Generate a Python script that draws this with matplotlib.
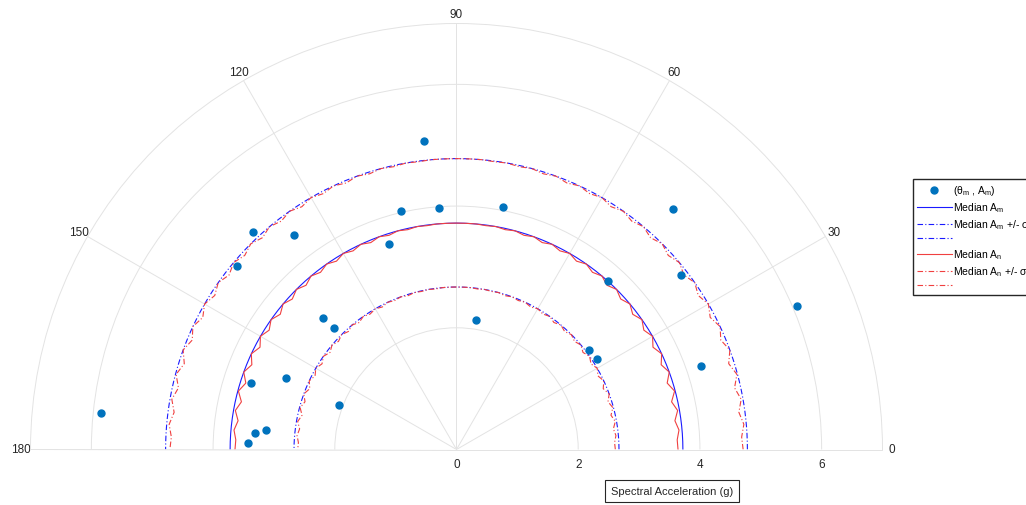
import numpy as np
import matplotlib.pyplot as plt

plt.rcParams['font.family'] = ['Liberation Sans', 'DejaVu Sans']
plt.rcParams['mathtext.default'] = 'regular'

# observed (theta, amplitude) pairs
theta_m = [96.1, 94.1, 79.1, 103.1, 108.2, 127.1, 133.1, 140.1, 174.1, 135.3,
           135.3, 157.2, 162.1, 159.3, 174.2, 175.2, 178.2, 81.3, 48.0, 48.0,
           37.9, 22.9, 18.9, 36.9, 32.8]
a_m = [5.10, 3.98, 4.06, 4.02, 3.56, 4.42, 4.89, 4.70, 5.88, 3.08,
       2.84, 3.04, 3.55, 2.07, 3.15, 3.32, 3.43, 2.16, 3.73, 5.32,
       4.68, 6.07, 4.25, 2.73, 2.74]

# median and +/- sigma of A_m (independent of angle)
median_am = 3.72
am_plus = 4.78
am_minus = 2.67

# A_n as a function of rotation angle, every 2.5 deg from 0 to 180
theta_n = np.arange(0, 180.1, 2.5)
median_an = [3.64, 3.63, 3.67, 3.62, 3.69, 3.62, 3.71, 3.63, 3.72, 3.64,
             3.72, 3.64, 3.72, 3.65, 3.72, 3.65, 3.72, 3.66, 3.72, 3.66,
             3.72, 3.67, 3.72, 3.67, 3.72, 3.68, 3.72, 3.68, 3.72, 3.69,
             3.72, 3.70, 3.72, 3.71, 3.72, 3.72, 3.72, 3.72, 3.72, 3.71,
             3.72, 3.70, 3.72, 3.69, 3.72, 3.68, 3.72, 3.68, 3.72, 3.67,
             3.72, 3.67, 3.72, 3.66, 3.72, 3.66, 3.72, 3.65, 3.72, 3.65,
             3.72, 3.64, 3.72, 3.64, 3.72, 3.63, 3.71, 3.62, 3.69, 3.62,
             3.67, 3.63, 3.64]
an_plus = [4.71, 4.69, 4.74, 4.68, 4.75, 4.68, 4.77, 4.69, 4.78, 4.70,
           4.78, 4.70, 4.78, 4.71, 4.78, 4.71, 4.78, 4.72, 4.78, 4.72,
           4.78, 4.73, 4.78, 4.73, 4.78, 4.74, 4.78, 4.74, 4.78, 4.75,
           4.78, 4.76, 4.78, 4.77, 4.78, 4.78, 4.78, 4.78, 4.78, 4.77,
           4.78, 4.76, 4.78, 4.75, 4.78, 4.74, 4.78, 4.74, 4.78, 4.73,
           4.78, 4.73, 4.78, 4.72, 4.78, 4.72, 4.78, 4.71, 4.78, 4.71,
           4.78, 4.70, 4.78, 4.70, 4.78, 4.69, 4.77, 4.68, 4.75, 4.68,
           4.74, 4.69, 4.71]
an_minus = [2.61, 2.60, 2.63, 2.60, 2.65, 2.60, 2.66, 2.61, 2.67, 2.61,
            2.67, 2.62, 2.67, 2.62, 2.67, 2.62, 2.67, 2.63, 2.67, 2.63,
            2.67, 2.63, 2.67, 2.64, 2.67, 2.64, 2.67, 2.65, 2.67, 2.65,
            2.67, 2.66, 2.67, 2.66, 2.67, 2.67, 2.67, 2.67, 2.67, 2.66,
            2.67, 2.66, 2.67, 2.65, 2.67, 2.65, 2.67, 2.64, 2.67, 2.64,
            2.67, 2.63, 2.67, 2.63, 2.67, 2.63, 2.67, 2.62, 2.67, 2.62,
            2.67, 2.62, 2.67, 2.61, 2.67, 2.61, 2.66, 2.60, 2.65, 2.60,
            2.63, 2.60, 2.61]

theta_ticks = [0, 30, 60, 90, 120, 150, 180]
r_ticks = [0, 2, 4, 6]

fig = plt.figure(figsize=(10.26, 5.06), dpi=100)
# square box so the upper half-disc spans the full width
ax = fig.add_axes([30.5 / 1026, -157.5 / 506, 852 / 1026, 852 / 506], projection='polar')

th = np.deg2rad(theta_n)
th_full = np.deg2rad(np.linspace(0, 180, 361))
dashdot = (0, (5, 2, 1, 2))
blue = '#1a1aff'
red = '#f04040'

h_pts, = ax.plot(np.deg2rad(theta_m), a_m, 'o', color='#0072BD', ms=5, zorder=5)
h_med_m, = ax.plot(th_full, np.full(th_full.size, median_am), '-', color=blue, lw=0.8)
h_hi_m, = ax.plot(th_full, np.full(th_full.size, am_plus), color=blue, lw=0.8, ls=dashdot)
h_lo_m, = ax.plot(th_full, np.full(th_full.size, am_minus), color=blue, lw=0.8, ls=dashdot)
h_med_n, = ax.plot(th, median_an, '-', color=red, lw=0.8)
h_hi_n, = ax.plot(th, an_plus, color=red, lw=0.8, ls=dashdot)
h_lo_n, = ax.plot(th, an_minus, color=red, lw=0.8, ls=dashdot)

ax.set_thetamin(0)
ax.set_thetamax(180)
ax.set_rlim(0, 7)
ax.set_rticks(r_ticks)
ax.set_thetagrids(theta_ticks, [str(t) for t in theta_ticks])
ax.grid(color='#e3e3e3', lw=0.7)
for sp in ax.spines.values():
    sp.set_color('#e3e3e3')
    sp.set_linewidth(0.7)
ax.tick_params(labelsize=8.5, colors='#262626', length=0)
ax.tick_params(axis='x', pad=0)
ax.tick_params(axis='y', pad=6)

ax.legend([h_pts, h_med_m, h_hi_m, h_lo_m, h_med_n, h_hi_n, h_lo_n],
          [r'($\theta_m$ , $A_m$)', r'Median $A_m$', r'Median $A_m$ +/- $\sigma_m$', '',
           r'Median $A_n$', r'Median $A_n$ +/- $\sigma_n$', ''],
          loc='upper left', bbox_to_anchor=(913 / 1026, 1 - 180 / 506),
          bbox_transform=fig.transFigure, fontsize=7.5, frameon=True, fancybox=False,
          edgecolor='#262626', framealpha=1, borderaxespad=0, borderpad=0.4,
          handlelength=3.3, handletextpad=0.1, labelspacing=0.3)

fig.text(672 / 1026, 1 - 492 / 506, 'Spectral Acceleration (g)', ha='center', va='center',
         fontsize=8, color='#262626',
         bbox=dict(boxstyle='square,pad=0.5', fc='white', ec='#262626', lw=0.8))

fig.savefig('out.png', dpi=100)
